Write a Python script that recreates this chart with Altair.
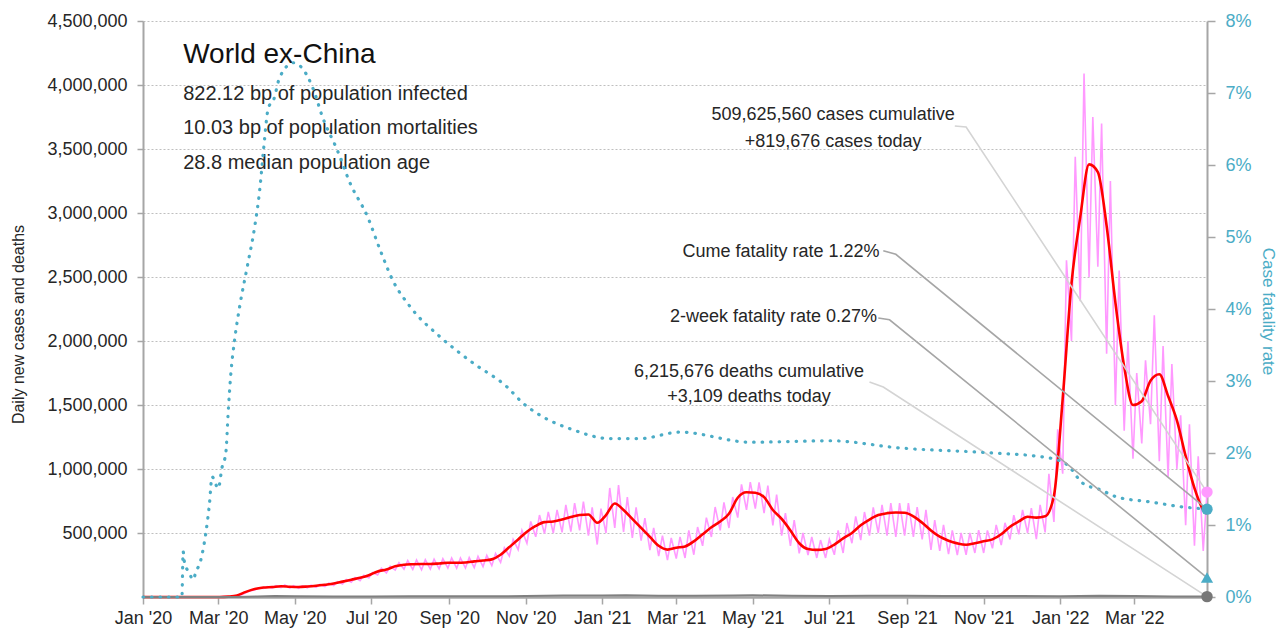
import altair as alt
import pandas as pd

FONT = "Liberation Sans, Arial, sans-serif"
TEAL = "#4bacc6"
PINK = "#ff99ff"
RED = "#ff0000"
TXT = "#262626"
AXG = "#a6a6a6"

# ---- weekly readings (Mondays from 2020-03-02), thousands of cases ----
avg_k = [
    0, 3, 12, 40, 62,
    74, 78, 84, 80,
    78, 82, 88, 96,
    105, 120, 135, 150, 170,
    200, 215, 240, 252,
    256, 258, 258, 262, 268,
    268, 270, 278, 285,
    294, 330, 390, 450,
    510, 555, 585, 590, 605,
    625, 640, 645, 580,
    640, 730, 680, 610,
    540, 470, 400, 370,
    385, 395, 435, 490, 545,
    590, 650, 775, 818,
    815, 780, 680, 610, 520,
    420, 375, 368, 375,
    410, 458, 500, 560,
    605, 640, 655, 660, 658,
    630, 580, 520, 471,
    440, 419, 408, 420,
    435, 450, 490, 549, 590,
    627, 620, 630, 790,
    1550, 2450, 2970, 3380, 3320,
    2900, 2300, 1800, 1500,
    1530, 1690, 1740, 1570,
    1380, 1100, 850, 680,
]
low_k = [
    0, 2, 8, 33, 55,
    66, 70, 74, 70,
    68, 72, 76, 82,
    90, 102, 115, 128, 148,
    172, 188, 210, 218,
    215, 212, 218, 220, 226,
    225, 226, 230, 238,
    245, 270, 320, 370,
    420, 470, 495, 500, 505,
    510, 520, 480, 410,
    500, 540, 508, 461,
    440, 367, 320, 289,
    300, 305, 330, 400, 469,
    520, 539, 620, 680,
    690, 656, 560, 480, 400,
    340, 328, 305, 305,
    330, 344, 420, 445,
    480, 500, 480, 469, 480,
    470, 450, 367, 360,
    335, 328, 330, 344,
    344, 380, 406, 450, 490,
    500, 452, 505, 586,
    963, 2000, 2310, 2500, 2580,
    1900, 1500, 1300, 1080,
    1200, 1350, 1060, 940,
    1000, 560, 400, 360,
]
high_k = [
    3, 6, 16, 48, 70,
    82, 88, 95, 88,
    86, 92, 98, 108,
    120, 136, 152, 170, 192,
    225, 240, 268, 285,
    290, 292, 295, 300, 305,
    305, 308, 318, 325,
    340, 385, 450, 520,
    590, 640, 665, 680, 720,
    734, 745, 700, 690,
    852, 875, 781, 700,
    617, 539, 480, 461,
    470, 520, 547, 620, 703,
    740, 781, 880, 898,
    895, 870, 800, 656, 600,
    500, 469, 445, 450,
    520, 578, 630, 664,
    700, 719, 734, 734, 734,
    703, 680, 600, 563,
    520, 500, 500, 523,
    520, 563, 580, 640, 680,
    694, 720, 963, 1310,
    2630, 3440, 4090, 3750, 3700,
    3250, 2550, 2000, 1750,
    1850, 2200, 1960, 1820,
    1420, 1350, 1100, 819.676,
]

# ---- cumulative case fatality rate (%) ----
cfr_dates = [
    "2020-01-01", "2020-02-01", "2020-02-02", "2020-02-03", "2020-02-07", "2020-02-10",
    "2020-02-12", "2020-02-16", "2020-02-20", "2020-02-23", "2020-02-25", "2020-03-01",
    "2020-03-04", "2020-03-07", "2020-03-09", "2020-03-11", "2020-03-14", "2020-03-18",
    "2020-03-24", "2020-03-30", "2020-04-03", "2020-04-06", "2020-04-10", "2020-04-14",
    "2020-04-19", "2020-04-30", "2020-05-08", "2020-05-16", "2020-05-23", "2020-06-04",
    "2020-06-14", "2020-06-28", "2020-07-08", "2020-07-18", "2020-08-01", "2020-08-25",
    "2020-09-20", "2020-10-17", "2020-10-30", "2020-11-12", "2020-12-09", "2021-01-07",
    "2021-01-31", "2021-03-04", "2021-04-29", "2021-07-02", "2021-08-26", "2021-10-29",
    "2021-12-16", "2021-12-24", "2022-01-07", "2022-01-19", "2022-02-02", "2022-02-15",
    "2022-03-14", "2022-04-09", "2022-04-28",
]
cfr_pct = [
    0, 0, 0.63, 0.49, 0.33, 0.24,
    0.34, 0.51, 0.88, 1.30, 1.67, 1.51,
    1.80, 2.00, 2.60, 3.10, 3.57, 4.03,
    4.58, 5.14, 5.65, 6.20, 6.80, 6.90,
    7.22, 7.42, 7.32, 7.04, 6.67, 6.20,
    5.75, 5.28, 4.82, 4.40, 4.03, 3.61,
    3.25, 2.92, 2.69, 2.53, 2.32, 2.20,
    2.20, 2.29, 2.15, 2.17, 2.07, 2.01,
    1.95, 1.93, 1.83, 1.58, 1.49, 1.39,
    1.32, 1.25, 1.22,
]

# ---- daily deaths ----
death_dates = [
    "2020-01-01", "2020-03-01", "2020-03-15", "2020-04-01", "2020-04-15", "2020-05-01",
    "2020-06-01", "2020-07-01", "2020-08-01", "2020-09-01", "2020-10-01", "2020-11-01",
    "2020-12-01", "2021-01-01", "2021-01-20", "2021-02-15", "2021-03-15", "2021-04-15",
    "2021-05-01", "2021-06-01", "2021-07-01", "2021-08-01", "2021-09-01", "2021-10-01",
    "2021-11-01", "2021-12-01", "2022-01-01", "2022-02-01", "2022-03-01", "2022-04-01",
    "2022-04-28",
]
death_vals = [
    0, 0, 600, 4500, 7000, 5500,
    4000, 4500, 5800, 5500, 5200, 7000,
    11000, 12500, 14500, 10500, 9000, 12500,
    13500, 10500, 8000, 9500, 9500, 7500,
    7000, 7000, 6500, 10500, 7500, 4000,
    3109,
]

END = "2022-04-28"
cases_today = 819676
deaths_today = 3109
cume_rate = 1.22
two_week_rate = 0.27

title_lines = ["World ex-China"]
sub_lines = ["822.12 bp of population infected",
             "10.03 bp of population mortalities",
             "28.8 median population age"]

# ---- tables ----
weeks = pd.date_range("2020-03-02", periods=len(avg_k), freq="7D")
pink_rows = [("2020-01-01", 0.0), ("2020-02-28", 0.0)]
for i, w in enumerate(weeks):
    pink_rows.append((w.strftime("%Y-%m-%d"), low_k[i] * 1000))
    pink_rows.append(((w + pd.Timedelta(days=3)).strftime("%Y-%m-%d"), high_k[i] * 1000))
pink_df = pd.DataFrame(pink_rows, columns=["date", "v"])

red_rows = [("2020-01-01", 0.0), ("2020-02-27", 0.0)]
for i, w in enumerate(weeks):
    red_rows.append((w.strftime("%Y-%m-%d"), avg_k[i] * 1000))
red_rows.append((END, 650000))
red_df = pd.DataFrame(red_rows, columns=["date", "v"])

cfr_df = pd.DataFrame({"date": cfr_dates, "v": cfr_pct})
death_df = pd.DataFrame({"date": death_dates, "v": death_vals})

# ---- scales & axes ----
def dt(y, m, d):
    return alt.DateTime(year=y, month=m, date=d, utc=True)

x_scale = alt.Scale(type="utc", domain=[dt(2020, 1, 1), dt(2022, 4, 28)], nice=False)
x_ticks = [dt(y, m, 1) for y in (2020, 2021) for m in (1, 3, 5, 7, 9, 11)] + [dt(2022, 1, 1), dt(2022, 3, 1)]
x_axis = alt.Axis(values=x_ticks, format="%b '%y", title=None, grid=False,
                  labelFont=FONT, labelFontSize=18, labelColor=TXT, labelPadding=5,
                  labelFlush=False, labelOverlap=False,
                  domainColor=AXG, domainWidth=2.5, tickColor=AXG, tickSize=7, tickWidth=1.5)

yl_scale = alt.Scale(domain=[0, 4500000], nice=False)
yl_axis = alt.Axis(values=[500000 * i for i in range(1, 10)], format=",d",
                   grid=True, gridDash=[2, 2], gridColor="#bfbfbf", gridWidth=1,
                   domainColor=AXG, domainWidth=2, tickColor=AXG, tickSize=6, tickWidth=1.5,
                   labelFont=FONT, labelFontSize=18, labelColor=TXT, labelPadding=10,
                   title="Daily new cases and deaths", titleFont=FONT, titleFontSize=16,
                   titleFontWeight="normal", titleColor=TXT, titleX=-125, titleY=303,
                   titleBaseline="middle")

yr_scale = alt.Scale(domain=[0, 8], nice=False)
yr_axis = alt.Axis(orient="right", values=list(range(0, 9)), labelExpr="datum.value + '%'",
                   grid=False, domainColor=AXG, domainWidth=2, tickColor=AXG, tickSize=8,
                   tickWidth=1.5, labelFont=FONT, labelFontSize=18, labelColor=TEAL,
                   labelPadding=10, title="Case fatality rate", titleFont=FONT,
                   titleFontSize=17, titleFontWeight="normal", titleColor=TEAL,
                   titleX=60, titleY=290, titleBaseline="middle")

def X():
    return alt.X("date:T", scale=x_scale, axis=x_axis)

def YL():
    return alt.Y("v:Q", scale=yl_scale, axis=yl_axis)

def YR():
    return alt.Y("v:Q", scale=yr_scale, axis=yr_axis)

# ---- left-axis layers ----
pink = alt.Chart(pink_df).mark_line(color=PINK, strokeWidth=1.6).encode(x=X(), y=YL())
red = alt.Chart(red_df).mark_line(color=RED, strokeWidth=2.6, interpolate="monotone").encode(x=X(), y=YL())
deaths = alt.Chart(death_df).mark_line(color="#808080", strokeWidth=2).encode(x=X(), y=YL())

lead_cases = alt.Chart(pd.DataFrame({
    "date": ["2021-10-09", "2021-10-18", END],
    "v": [3680000, 3672000, cases_today]})).mark_line(color="#d4d4d4", strokeWidth=1.6).encode(x=X(), y=YL())
lead_deaths = alt.Chart(pd.DataFrame({
    "date": ["2021-08-02", "2021-08-13", END],
    "v": [1680000, 1640000, deaths_today]})).mark_line(color="#d4d4d4", strokeWidth=1.6).encode(x=X(), y=YL())

pink_dot = alt.Chart(pd.DataFrame({"date": [END], "v": [cases_today]})).mark_point(
    filled=True, shape="circle", size=130, color=PINK, opacity=1).encode(x=X(), y=YL())
gray_dot = alt.Chart(pd.DataFrame({"date": [END], "v": [deaths_today]})).mark_point(
    filled=True, shape="circle", size=130, color="#777777", opacity=1).encode(x=X(), y=YL())

title_t = alt.Chart(pd.DataFrame({"date": ["2020-02-02"], "v": [4234375], "t": title_lines})).mark_text(
    font=FONT, fontSize=28, align="left", baseline="middle", color="#111111").encode(x=X(), y=YL(), text="t:N")
sub_t = alt.Chart(pd.DataFrame({"date": ["2020-02-02"] * 3, "v": [3929688, 3664062, 3390625],
                                "t": sub_lines})).mark_text(
    font=FONT, fontSize=20, align="left", baseline="middle", color=TXT).encode(x=X(), y=YL(), text="t:N")

cases_t = alt.Chart(pd.DataFrame({
    "date": ["2021-07-04", "2021-07-04"], "v": [3765625, 3554688],
    "t": [f"{509625560:,} cases cumulative", f"+{cases_today:,} cases today"]})).mark_text(
    font=FONT, fontSize=18, align="center", baseline="middle", color=TXT).encode(x=X(), y=YL(), text="t:N")
deaths_t = alt.Chart(pd.DataFrame({
    "date": ["2021-04-28", "2021-04-28"], "v": [1757812, 1562500],
    "t": [f"{6215676:,} deaths cumulative", f"+{deaths_today:,} deaths today"]})).mark_text(
    font=FONT, fontSize=18, align="center", baseline="middle", color=TXT).encode(x=X(), y=YL(), text="t:N")

left = alt.layer(pink, red, deaths, lead_cases, lead_deaths, pink_dot, gray_dot,
                 title_t, sub_t, cases_t, deaths_t)

# ---- right-axis layers ----
cfr = alt.Chart(cfr_df).mark_line(color=TEAL, strokeWidth=3.2, strokeDash=[0.5, 8],
                                  strokeCap="round", interpolate="monotone").encode(x=X(), y=YR())
lead_cume = alt.Chart(pd.DataFrame({
    "date": ["2021-08-13", "2021-08-23", END],
    "v": [4.81, 4.76, cume_rate]})).mark_line(color=AXG, strokeWidth=1.6).encode(x=X(), y=YR())
lead_2wk = alt.Chart(pd.DataFrame({
    "date": ["2021-08-09", "2021-08-18", END],
    "v": [3.875, 3.85, two_week_rate]})).mark_line(color=AXG, strokeWidth=1.6).encode(x=X(), y=YR())
teal_dot = alt.Chart(pd.DataFrame({"date": [END], "v": [cume_rate]})).mark_point(
    filled=True, shape="circle", size=130, color=TEAL, opacity=1).encode(x=X(), y=YR())
teal_tri = alt.Chart(pd.DataFrame({"date": [END], "v": [two_week_rate]})).mark_point(
    filled=True, shape="triangle-up", size=150, color=TEAL, opacity=1).encode(x=X(), y=YR())
rate_t = alt.Chart(pd.DataFrame({
    "date": ["2021-08-10", "2021-08-08"], "v": [4.79, 3.89],
    "t": [f"Cume fatality rate {cume_rate:.2f}%", f"2-week fatality rate {two_week_rate:.2f}%"]})).mark_text(
    font=FONT, fontSize=18, align="right", baseline="middle", color=TXT).encode(x=X(), y=YR(), text="t:N")

right = alt.layer(cfr, lead_cume, lead_2wk, teal_dot, teal_tri, rate_t)

chart = alt.layer(left, right).resolve_scale(y="independent").properties(
    width=1064, height=576,
    autosize=alt.AutoSizeParams(type="none"),
    padding={"left": 135, "top": 13, "right": 72, "bottom": 32},
).configure_view(stroke=None)

chart.save("out.html", embed_options={"renderer": "svg", "actions": False})
